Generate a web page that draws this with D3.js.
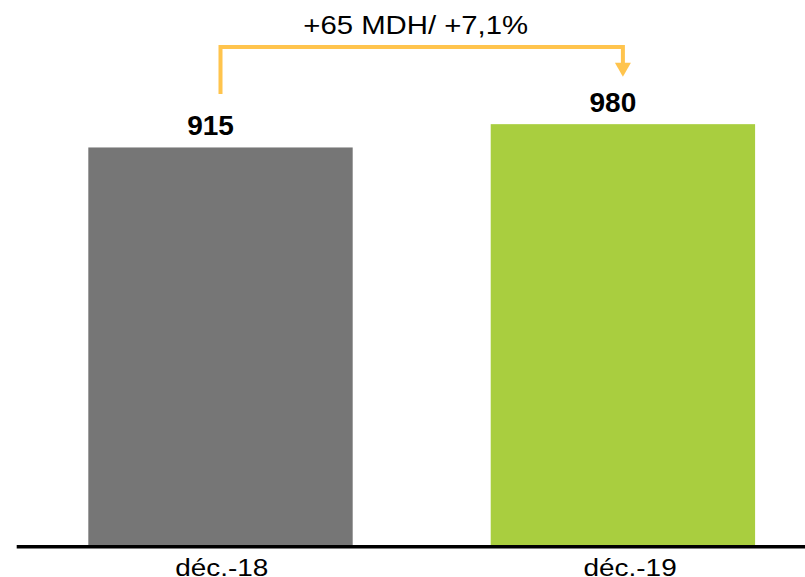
<!DOCTYPE html>
<html>
<head>
<meta charset="utf-8">
<script src="https://cdn.jsdelivr.net/npm/d3@7"></script>
<style>
  html, body { margin: 0; padding: 0; background: #fff; }
  svg { display: block; font-family: "Liberation Sans", Arial, sans-serif; }
</style>
</head>
<body>
<svg id="chart" width="805" height="577"></svg>
<script>
const categories = ["déc.-18", "déc.-19"];
const values = [915, 980];
const valueLabels = ["915", "980"];
const barColors = ["#767676", "#A9CE3F"];
const deltaLabel = "+65 MDH/ +7,1%";

const svg = d3.select("#chart");

const x = d3.scaleBand()
  .domain(categories)
  .range([19.3, 824.1])
  .paddingInner(0.343)
  .paddingOuter(0.1715);

const y = d3.scaleLinear()
  .domain([-194, 1200])
  .range([545, 45.3]);

const base = y.range()[0];

// bars
svg.selectAll("rect.bar")
  .data(categories)
  .enter().append("rect")
  .attr("class", "bar")
  .attr("x", d => x(d))
  .attr("width", x.bandwidth())
  .attr("y", (d, i) => y(values[i]))
  .attr("height", (d, i) => base - y(values[i]))
  .attr("fill", (d, i) => barColors[i]);

// baseline axis
const xAxis = d3.axisBottom(x).tickSize(0).tickFormat(() => "");
const axisG = svg.append("g").attr("transform", `translate(0,${base + 1.7})`).call(xAxis);
axisG.select(".domain").remove();
svg.append("line")
  .attr("x1", 16.7).attr("x2", 805)
  .attr("y1", base + 1.7).attr("y2", base + 1.7)
  .attr("stroke", "#000").attr("stroke-width", 3.4);

// category labels
const catOffsets = [1.2, 7.2];
svg.selectAll("text.cat")
  .data(categories)
  .enter().append("text")
  .attr("class", "cat")
  .attr("transform", (d, i) => `translate(${x(d) + x.bandwidth() / 2 + catOffsets[i]},575.7) scale(1.15,1)`)
  .attr("text-anchor", "middle")
  .attr("font-size", 24.3)
  .attr("fill", "#000")
  .text(d => d);

// value labels
svg.selectAll("text.val")
  .data(categories)
  .enter().append("text")
  .attr("class", "val")
  .attr("x", d => x(d) + x.bandwidth() / 2 - 10)
  .attr("y", (d, i) => y(values[i]) - 12)
  .attr("text-anchor", "middle")
  .attr("font-size", 28)
  .attr("font-weight", "bold")
  .attr("fill", "#000")
  .text((d, i) => valueLabels[i]);

// delta arrow
const cx0 = x(categories[0]) + x.bandwidth() / 2;
const cx1 = x(categories[1]) + x.bandwidth() / 2;
const arrowColor = "#FFC44D";
const topY = 47;
svg.append("path")
  .attr("d", `M${cx0},94 V${topY} H${cx1} V64`)
  .attr("fill", "none")
  .attr("stroke", arrowColor)
  .attr("stroke-width", 4);
svg.append("path")
  .attr("d", `M${cx1 - 8},62.7 L${cx1 + 8},62.7 L${cx1},76.7 Z`)
  .attr("fill", arrowColor);

svg.append("text")
  .attr("transform", `translate(${(cx0 + cx1) / 2 - 6},34.3) scale(1.15,1)`)
  .attr("text-anchor", "middle")
  .attr("font-size", 25.5)
  .attr("fill", "#000")
  .text(deltaLabel);
</script>
</body>
</html>
